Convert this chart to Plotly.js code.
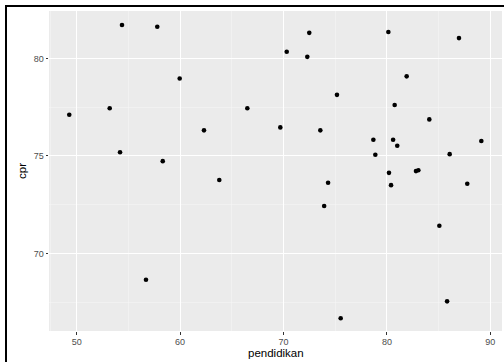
<!DOCTYPE html>
<html>
<head>
<meta charset="utf-8">
<script src="https://cdn.plot.ly/plotly-3.0.1.min.js"></script>
<style>
html,body{margin:0;padding:0;background:#fff;}
#wrap{position:relative;width:504px;height:362px;overflow:hidden;}
#chart{position:absolute;left:0;top:0;width:504px;height:362px;}
#frame{position:absolute;left:5px;top:5px;width:510px;height:370px;border-top:2px solid #000;border-left:2px solid #000;pointer-events:none;}
</style>
</head>
<body>
<div id="wrap"><div id="chart"></div><div id="frame"></div></div>
<script>
const pendidikan = [49.28, 54.38, 57.79, 59.96, 53.19, 66.5, 62.31, 54.19, 58.32, 63.79,
  72.49, 80.14, 86.97, 70.31, 72.30, 81.91, 75.17, 80.75, 84.1, 69.69,
  73.56, 78.69, 80.6, 81.0, 89.13, 78.88, 86.07, 80.2, 82.81, 83.04,
  74.31, 80.4, 87.77, 73.93, 85.07, 85.82, 75.53, 56.7];
const cpr = [77.11, 81.71, 81.62, 78.97, 77.44, 77.44, 76.31, 75.19, 74.73, 73.76,
  81.31, 81.35, 81.04, 80.34, 80.08, 79.08, 78.13, 77.61, 76.87, 76.46,
  76.31, 75.83, 75.83, 75.52, 75.76, 75.06, 75.09, 74.13, 74.22, 74.26,
  73.62, 73.50, 73.57, 72.43, 71.42, 67.54, 66.67, 68.65];
const xTicks = [50, 60, 70, 80, 90];
const yTicks = [70, 75, 80];
const xTitle = 'pendidikan';
const yTitle = 'cpr';

const tickFont = {family: 'Liberation Sans, Arial, sans-serif', size: 9, color: '#4D4D4D'};
const titleFont = {family: 'Liberation Sans, Arial, sans-serif', size: 11.5, color: '#000'};

Plotly.newPlot('chart', [{
  type: 'scatter', mode: 'markers', x: pendidikan, y: cpr,
  marker: {color: '#000', size: 4.6}, hoverinfo: 'x+y'
}], {
  width: 504, height: 362,
  margin: {l: 49, r: 2, t: 11, b: 31, pad: 0},
  paper_bgcolor: '#fff', plot_bgcolor: '#EBEBEB',
  showlegend: false,
  xaxis: {
    range: [47.32, 91.13], tickvals: xTicks, ticktext: xTicks.map(String),
    showgrid: true, gridcolor: '#fff', gridwidth: 1.1, zeroline: false, showline: false,
    ticks: 'outside', ticklen: 2.5, tickwidth: 1, tickcolor: '#333',
    tickfont: tickFont, automargin: false,
    minor: {tickvals: [47.5, 55, 65, 75, 85], showgrid: true, gridcolor: '#F7F7F7', gridwidth: 0.5, ticks: ''}
  },
  yaxis: {
    range: [66.02, 82.43], tickvals: yTicks, ticktext: yTicks.map(String),
    showgrid: true, gridcolor: '#fff', gridwidth: 1.1, zeroline: false, showline: false,
    ticks: 'outside', ticklen: 2.5, tickwidth: 1, tickcolor: '#333',
    tickfont: tickFont, automargin: false,
    minor: {tickvals: [67.5, 72.5, 77.5], showgrid: true, gridcolor: '#F7F7F7', gridwidth: 0.5, ticks: ''},
    title: {text: yTitle, font: titleFont, standoff: 4}
  },
  annotations: [{
    text: xTitle, font: titleFont, showarrow: false, borderpad: 0,
    xref: 'paper', yref: 'paper', x: 0.5, y: 0, xanchor: 'center', yanchor: 'top', yshift: -15
  }]
}, {staticPlot: true, displayModeBar: false});
</script>
</body>
</html>
